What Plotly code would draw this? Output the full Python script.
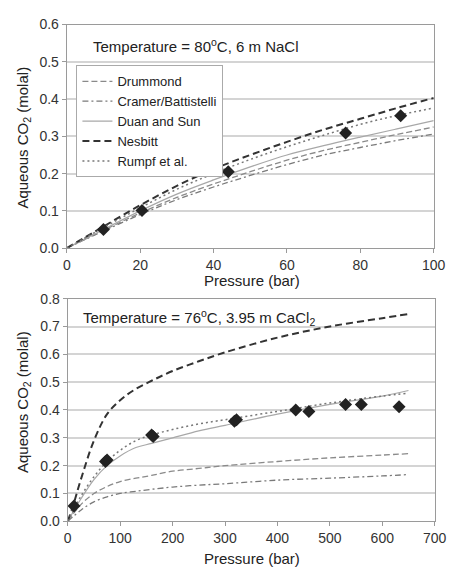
import plotly.graph_objects as go

# ---------- Top panel: 80 C, 6 m NaCl ----------
p_top = [0, 10, 20, 30, 40, 50, 60, 70, 80, 90, 100]
top_drummond = [0, 0.048, 0.094, 0.136, 0.172, 0.205, 0.236, 0.262, 0.284, 0.305, 0.325]
top_cramer = [0, 0.046, 0.090, 0.130, 0.164, 0.195, 0.224, 0.250, 0.270, 0.289, 0.306]
top_duan = [0, 0.050, 0.100, 0.145, 0.183, 0.218, 0.250, 0.275, 0.298, 0.320, 0.342]
top_nesbitt = [0, 0.058, 0.115, 0.167, 0.212, 0.250, 0.285, 0.318, 0.347, 0.376, 0.403]
top_rumpf = [0, 0.055, 0.108, 0.158, 0.200, 0.238, 0.272, 0.303, 0.332, 0.356, 0.376]
top_exp_p = [10, 20.5, 44, 76, 91]
top_exp_c = [0.050, 0.101, 0.205, 0.309, 0.355]

# ---------- Bottom panel: 76 C, 3.95 m CaCl2 ----------
p_bot_n = [0, 10, 25, 50, 75, 100, 125, 160, 200, 250, 300, 400, 500, 600, 650]
bot_nesbitt = [0, 0.055, 0.15, 0.29, 0.385, 0.435, 0.47, 0.505, 0.54, 0.575, 0.607, 0.66, 0.70, 0.73, 0.745]
p_bot = [0, 25, 50, 75, 100, 130, 160, 200, 250, 300, 400, 500, 600, 650]
bot_rumpf = [0, 0.09, 0.16, 0.215, 0.255, 0.29, 0.31, 0.33, 0.35, 0.365, 0.395, 0.425, 0.45, 0.46]
bot_duan = [0, 0.08, 0.15, 0.20, 0.235, 0.265, 0.28, 0.30, 0.325, 0.345, 0.385, 0.42, 0.45, 0.47]
bot_drummond = [0, 0.06, 0.10, 0.125, 0.143, 0.155, 0.165, 0.18, 0.19, 0.20, 0.215, 0.228, 0.238, 0.243]
bot_cramer = [0, 0.04, 0.07, 0.088, 0.10, 0.108, 0.115, 0.123, 0.13, 0.135, 0.148, 0.155, 0.163, 0.168]
bot_exp_p = [12, 72, 75, 160, 163, 318, 322, 435, 460, 530, 560, 632]
bot_exp_c = [0.055, 0.215, 0.22, 0.31, 0.305, 0.36, 0.365, 0.40, 0.395, 0.42, 0.42, 0.412]

x_ticks_top = [0, 20, 40, 60, 80, 100]
y_ticks_top = [0.0, 0.1, 0.2, 0.3, 0.4, 0.5, 0.6]
x_ticks_bot = [0, 100, 200, 300, 400, 500, 600, 700]
y_ticks_bot = [0.0, 0.1, 0.2, 0.3, 0.4, 0.5, 0.6, 0.7, 0.8]

styles = {
    "Drummond": dict(color="#8a8a8a", width=1.3, dash="6px,3px"),
    "Cramer/Battistelli": dict(color="#7a7a7a", width=1.3, dash="6px,3px,2px,3px"),
    "Duan and Sun": dict(color="#a8a8a8", width=1.2, dash="solid"),
    "Nesbitt": dict(color="#333333", width=2.0, dash="7px,4px"),
    "Rumpf et al.": dict(color="#777777", width=1.5, dash="2px,3px"),
}

fig = go.Figure()

top_series = [("Drummond", top_drummond), ("Cramer/Battistelli", top_cramer),
              ("Duan and Sun", top_duan), ("Nesbitt", top_nesbitt), ("Rumpf et al.", top_rumpf)]
for name, vals in top_series:
    fig.add_trace(go.Scatter(x=p_top, y=vals, mode="lines", name=name, line=styles[name],
                             line_shape="spline", xaxis="x", yaxis="y"))
fig.add_trace(go.Scatter(x=top_exp_p, y=top_exp_c, mode="markers", showlegend=False,
                         marker=dict(symbol="diamond", size=10, color="#222222"),
                         xaxis="x", yaxis="y"))

bot_series = [("Drummond", p_bot, bot_drummond), ("Cramer/Battistelli", p_bot, bot_cramer),
              ("Duan and Sun", p_bot, bot_duan), ("Nesbitt", p_bot_n, bot_nesbitt),
              ("Rumpf et al.", p_bot, bot_rumpf)]
for name, xs, vals in bot_series:
    fig.add_trace(go.Scatter(x=xs, y=vals, mode="lines", name=name, line=styles[name],
                             line_shape="spline", showlegend=False, xaxis="x2", yaxis="y2"))
fig.add_trace(go.Scatter(x=bot_exp_p, y=bot_exp_c, mode="markers", showlegend=False,
                         marker=dict(symbol="diamond", size=10, color="#222222"),
                         xaxis="x2", yaxis="y2"))

W, H = 466, 575
font = dict(family="Liberation Sans, Arial, sans-serif", size=14, color="#222222")
axis_common = dict(showline=True, linecolor="#9a9a9a", linewidth=1.2, mirror=True,
                   ticks="outside", ticklen=4, tickcolor="#9a9a9a",
                   tickfont=dict(size=14, color="#333333"), zeroline=False)

fig.update_layout(
    width=W, height=H, margin=dict(l=0, r=0, t=0, b=0),
    paper_bgcolor="white", plot_bgcolor="white", font=font,
    xaxis=dict(domain=[65 / W, 445 / W], range=[0, 100], tickvals=x_ticks_top,
               showgrid=False, anchor="y", **axis_common),
    yaxis=dict(domain=[1 - 247 / H, 1 - 17 / H], range=[0, 0.6], tickvals=y_ticks_top,
               tickformat=".1f", showgrid=True, gridcolor="#d4d4d4", gridwidth=1.5,
               anchor="x", **axis_common),
    xaxis2=dict(domain=[66 / W, 446 / W], range=[0, 700], tickvals=x_ticks_bot,
                showgrid=False, anchor="y2", **axis_common),
    yaxis2=dict(domain=[1 - 528 / H, 1 - 299 / H], range=[0, 0.8], tickvals=y_ticks_bot,
                tickformat=".1f", showgrid=True, gridcolor="#d4d4d4", gridwidth=1.5,
                anchor="x2", **axis_common),
    legend=dict(x=75 / W, y=1 - 59 / H, xanchor="left", yanchor="top",
                bgcolor="white", bordercolor="#aaaaaa", borderwidth=1,
                font=dict(size=13, color="#222222"), itemwidth=30,
                tracegroupgap=0),
    showlegend=True,
)

annotations = [
    dict(text="Temperature = 80<sup>o</sup>C, 6 m NaCl", x=90 / W, y=1 - 39 / H,
         xanchor="left", yanchor="middle", font=dict(size=15)),
    dict(text="Temperature = 76<sup>o</sup>C, 3.95 m CaCl<sub>2</sub>", x=80 / W, y=1 - 318 / H,
         xanchor="left", yanchor="middle", font=dict(size=15)),
    dict(text="Pressure (bar)", x=257 / W, y=1 - 280 / H, xanchor="center", yanchor="middle",
         font=dict(size=15)),
    dict(text="Pressure (bar)", x=257 / W, y=1 - 566 / H, xanchor="center", yanchor="middle",
         font=dict(size=15)),
    dict(text="Aqueous CO<sub>2</sub> (molal)", x=20 / W, y=1 - 133 / H, textangle=-90,
         xanchor="center", yanchor="middle", font=dict(size=15)),
    dict(text="Aqueous CO<sub>2</sub> (molal)", x=20 / W, y=1 - 405 / H, textangle=-90,
         xanchor="center", yanchor="middle", font=dict(size=15)),
]
for a in annotations:
    a.update(xref="paper", yref="paper", showarrow=False)
fig.update_layout(annotations=annotations)

fig.write_html(
    "out.html",
    config={"displayModeBar": False},
    post_script=(
        "document.documentElement.style.margin='0px';"
        "document.documentElement.style.overflow='hidden';"
        "document.body.style.margin='0px';"
        "document.body.style.overflow='hidden';"
        "window.scrollTo(0,0);"
    ),
)
